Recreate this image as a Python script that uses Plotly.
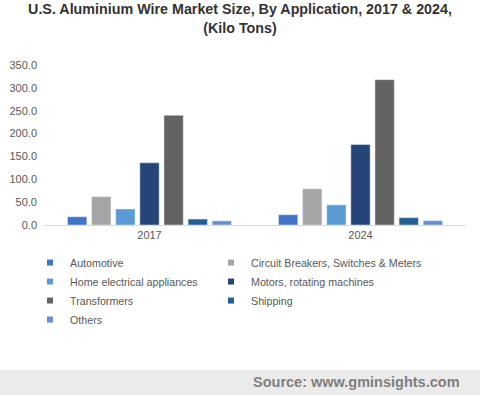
import plotly.graph_objects as go

years = ["2017", "2024"]
series_names = ["Automotive", "Circuit Breakers, Switches & Meters", "Home electrical appliances",
                "Motors, rotating machines", "Transformers", "Shipping", "Others"]
automotive = [18, 22.5]
circuit = [62, 79]
home = [35, 44]
motors = [136, 176]
transformers = [240, 318]
shipping = [13, 16]
others = [9, 9.5]
colors = ["#4472C4", "#A5A5A5", "#5B9BD5", "#264478", "#636363", "#255E91", "#698ED0"]
values = [automotive, circuit, home, motors, transformers, shipping, others]
legend_column = ["legend", "legend2", "legend", "legend2", "legend", "legend2", "legend"]

fig = go.Figure()
for name, vals, col in zip(series_names, values, colors):
    fig.add_trace(go.Bar(x=years, y=vals, name=name, marker_color=col, showlegend=False))
for name, col, lg in zip(series_names, colors, legend_column):
    fig.add_trace(go.Scatter(x=[None], y=[None], mode="markers", name=name, legend=lg,
                             marker=dict(symbol="square", size=6, color=col)))

font = "Liberation Sans, Arial, sans-serif"
legend_style = dict(orientation="v", yanchor="top", y=-0.144, xanchor="left",
                    font=dict(size=10.7, color="#595959", family=font),
                    tracegroupgap=0, itemclick=False, bgcolor="rgba(0,0,0,0)")
fig.update_layout(
    width=480, height=395,
    margin=dict(l=44, r=14, t=65, b=170, autoexpand=False),
    paper_bgcolor="white", plot_bgcolor="white",
    barmode="group", bargap=0.2, bargroupgap=0.2,
    font=dict(family=font, size=11, color="#595959"),
    title=dict(text="<b>U.S. Aluminium Wire Market Size, By Application, 2017 & 2024,<br>(Kilo Tons)</b>",
               x=0.5, xanchor="center", xref="container", y=1 - 14 / 395, yanchor="top",
               font=dict(size=14.3, color="#333333", family=font)),
    xaxis=dict(showline=True, linecolor="#D9D9D9", linewidth=1, ticks="", showgrid=False,
               automargin=False, tickfont=dict(size=11, color="#595959")),
    yaxis=dict(range=[0, 350], dtick=50, tickformat=".1f", showgrid=False, zeroline=False,
               showline=False, ticks="", ticklabelstandoff=6, automargin=False,
               tickfont=dict(size=11, color="#595959")),
    legend=dict(x=(30 - 44) / 422, **legend_style),
    legend2=dict(x=(211 - 44) / 422, **legend_style),
    shapes=[dict(type="rect", xref="paper", yref="paper", x0=-0.2, x1=1.2,
                 y0=(225 - 400) / 160, y1=(225 - 370) / 160,
                 fillcolor="#EBEBEB", line=dict(width=0), layer="below")],
    annotations=[dict(text="<b>Source: www.gminsights.com</b>", xref="paper", yref="paper",
                      x=(462 - 44) / 422, y=(225 - 382) / 160, xanchor="right", yanchor="middle",
                      showarrow=False, font=dict(size=14.5, color="#7F7F7F", family=font))],
)
fig.write_html("out.html", config={"displayModeBar": False},
               post_script="document.body.style.margin='0';")
